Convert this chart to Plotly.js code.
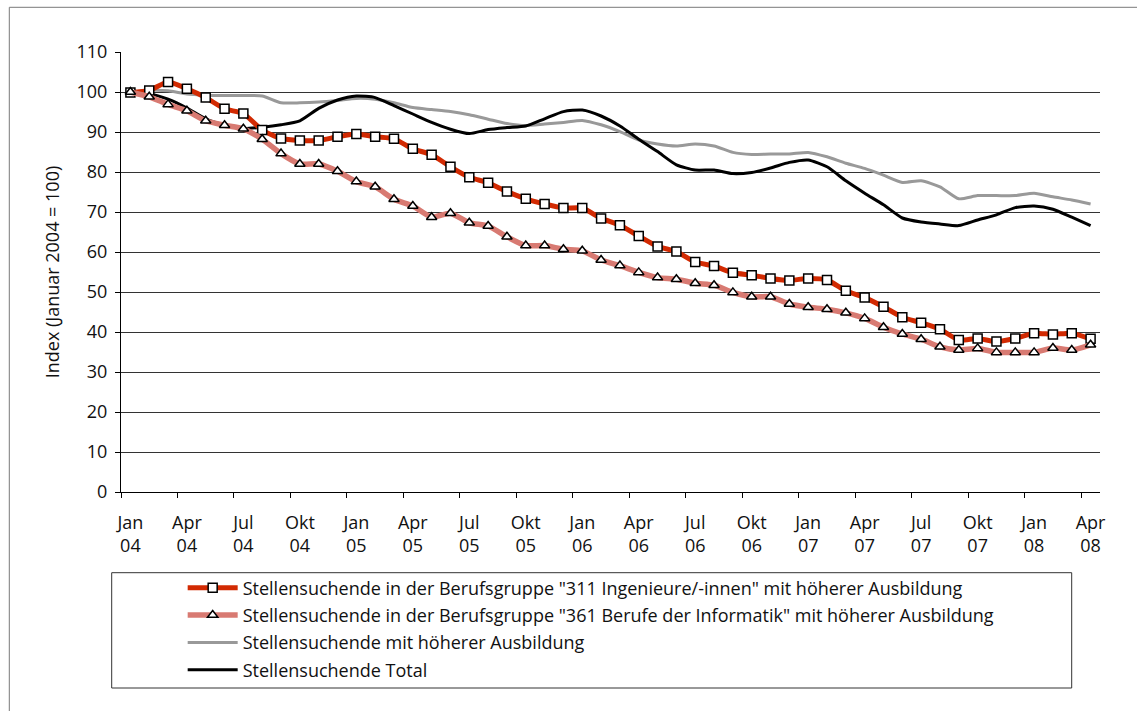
<!DOCTYPE html>
<html>
<head>
<meta charset="utf-8">
<script src="https://cdn.plot.ly/plotly-3.0.1.min.js"></script>
<style>html,body{margin:0;padding:0;background:#fff;}#chart{width:1137px;height:711px;}</style>
</head>
<body>
<div id="chart"></div>
<script>
const months = [
  "Jan<br>04","Feb<br>04","Mär<br>04","Apr<br>04","Mai<br>04","Jun<br>04","Jul<br>04","Aug<br>04","Sep<br>04","Okt<br>04","Nov<br>04","Dez<br>04",
  "Jan<br>05","Feb<br>05","Mär<br>05","Apr<br>05","Mai<br>05","Jun<br>05","Jul<br>05","Aug<br>05","Sep<br>05","Okt<br>05","Nov<br>05","Dez<br>05",
  "Jan<br>06","Feb<br>06","Mär<br>06","Apr<br>06","Mai<br>06","Jun<br>06","Jul<br>06","Aug<br>06","Sep<br>06","Okt<br>06","Nov<br>06","Dez<br>06",
  "Jan<br>07","Feb<br>07","Mär<br>07","Apr<br>07","Mai<br>07","Jun<br>07","Jul<br>07","Aug<br>07","Sep<br>07","Okt<br>07","Nov<br>07","Dez<br>07",
  "Jan<br>08","Feb<br>08","Mär<br>08","Apr<br>08"
];

const ingenieure = [99.9,100.4,102.5,100.8,98.6,95.8,94.6,90.5,88.4,87.9,87.9,88.8,
  89.5,88.8,88.3,85.8,84.3,81.3,78.7,77.3,75.1,73.3,72.0,71.0,
  71.0,68.4,66.7,64.0,61.4,60.1,57.5,56.5,54.8,54.2,53.4,52.9,
  53.4,53.0,50.3,48.6,46.3,43.7,42.3,40.7,38.0,38.4,37.6,38.4,
  39.7,39.4,39.7,38.3];

const informatik = [100.0,98.8,96.9,95.3,92.8,91.7,90.8,88.2,84.6,82.0,82.0,80.2,
  77.6,76.3,73.2,71.5,68.7,69.7,67.3,66.5,63.8,61.6,61.6,60.7,
  60.3,58.0,56.6,54.9,53.6,53.2,52.2,51.7,49.9,48.8,48.8,47.0,
  46.2,45.7,44.8,43.4,41.2,39.5,38.2,36.3,35.5,35.9,34.9,34.9,
  34.9,36.0,35.5,36.8];

const hoehereAusbildung = [100.0,100.4,100.3,99.5,99.2,99.1,99.1,99.0,97.3,97.3,97.5,97.9,
  98.4,98.2,97.3,96.1,95.6,95.1,94.3,93.2,92.1,91.6,92.0,92.4,
  92.9,91.8,90.1,88.0,87.0,86.5,87.0,86.5,84.9,84.4,84.5,84.5,
  84.9,83.8,82.2,80.9,79.2,77.4,77.8,76.3,73.3,74.1,74.1,74.1,
  74.7,73.8,73.0,72.0];

const total = [100.0,99.6,98.2,96.0,93.3,91.8,90.9,91.2,91.8,92.8,95.9,98.0,
  99.0,98.6,96.6,94.5,92.4,90.7,89.6,90.6,91.1,91.5,93.3,95.1,
  95.5,94.0,91.5,88.2,85.1,81.8,80.5,80.5,79.6,79.9,81.0,82.4,
  83.0,81.3,77.8,74.7,71.8,68.5,67.5,67.0,66.6,68.0,69.3,71.1,
  71.5,70.7,68.7,66.6];

const names = [
  'Stellensuchende in der Berufsgruppe "311 Ingenieure/-innen" mit höherer Ausbildung',
  'Stellensuchende in der Berufsgruppe "361 Berufe der Informatik" mit höherer Ausbildung',
  'Stellensuchende mit höherer Ausbildung',
  'Stellensuchende Total'
];

const FONT = '"Open Sans", "Noto Sans", sans-serif';
const TXT = '#111111';

const traces = [
  {x: months, y: hoehereAusbildung, name: names[2], type: 'scatter', mode: 'lines',
   line: {color: '#999999', width: 3, shape: 'spline', smoothing: 0.6},
   legendrank: 3, legendgroup: 'c'},
  {x: months, y: total, name: names[3], type: 'scatter', mode: 'lines',
   line: {color: '#000000', width: 3, shape: 'spline', smoothing: 0.6},
   legendrank: 4, legendgroup: 'd'},
  {x: months, y: ingenieure, name: names[0], type: 'scatter', mode: 'lines+markers',
   line: {color: '#D22A02', width: 5, shape: 'spline', smoothing: 0.6},
   marker: {symbol: 'square', size: 9, color: '#ffffff', line: {color: '#000000', width: 1.5}},
   legendrank: 1, legendgroup: 'a'},
  {x: months, y: informatik, name: names[1], type: 'scatter', mode: 'lines+markers',
   line: {color: '#D87A72', width: 5.5, shape: 'spline', smoothing: 0.6},
   marker: {symbol: 'triangle-up', size: 9, color: '#ffffff', line: {color: '#000000', width: 1.5}},
   legendrank: 2, legendgroup: 'b'}
];

const layout = {
  width: 1137, height: 711, autosize: false,
  margin: {l: 121, r: 37, t: 52, b: 219, pad: 0},
  paper_bgcolor: '#ffffff', plot_bgcolor: '#ffffff',
  font: {family: FONT, size: 18, color: TXT},
  showlegend: true,
  legend: {
    x: 0.063, xanchor: 'left', y: -0.176, yanchor: 'top',
    bgcolor: 'rgba(0,0,0,0)', borderwidth: 0,
    font: {family: FONT, size: 18, color: TXT},
    itemwidth: 50, traceorder: 'grouped', tracegroupgap: 1
  },
  xaxis: {
    type: 'category', range: [-0.5, 51.5], autorange: false,
    tickmode: 'linear', tick0: 0, dtick: 3, tickson: 'boundaries',
    ticks: 'outside', ticklen: 5, tickcolor: '#000', tickwidth: 1,
    showline: true, linecolor: '#000', linewidth: 1,
    showgrid: false, zeroline: false, fixedrange: true,
    tickfont: {family: FONT, size: 18, color: TXT}, tickangle: 0,
    ticklabelstandoff: 14
  },
  yaxis: {
    range: [0, 110], autorange: false, dtick: 10, tick0: 0,
    ticks: 'outside', ticklen: 5, tickcolor: '#000', tickwidth: 1,
    showline: true, linecolor: '#000', linewidth: 1,
    showgrid: true, gridcolor: '#333333', gridwidth: 1, zeroline: false,
    tickfont: {family: FONT, size: 18, color: TXT},
    ticklabelstandoff: 4,
    title: {text: 'Index (Januar 2004 = 100)', font: {family: FONT, size: 18, color: TXT}, standoff: 12}
  },
  shapes: [
    {type: 'rect', xref: 'paper', yref: 'paper',
     x0: (111.7 - 121) / 979, x1: (1071.7 - 121) / 979,
     y0: (492 - 688) / 440, y1: (492 - 572.7) / 440,
     line: {color: '#333333', width: 1}, fillcolor: 'rgba(0,0,0,0)', layer: 'below'},
    {type: 'rect', xref: 'paper', yref: 'paper',
     x0: (9.3 - 121) / 979, x1: (1145 - 121) / 979,
     y0: (492 - 720) / 440, y1: (492 - 7.3) / 440,
     line: {color: '#7a7a7a', width: 1}, fillcolor: 'rgba(0,0,0,0)', layer: 'below'}
  ]
};

Plotly.newPlot('chart', traces, layout, {displayModeBar: false, staticPlot: true});
</script>
</body>
</html>
